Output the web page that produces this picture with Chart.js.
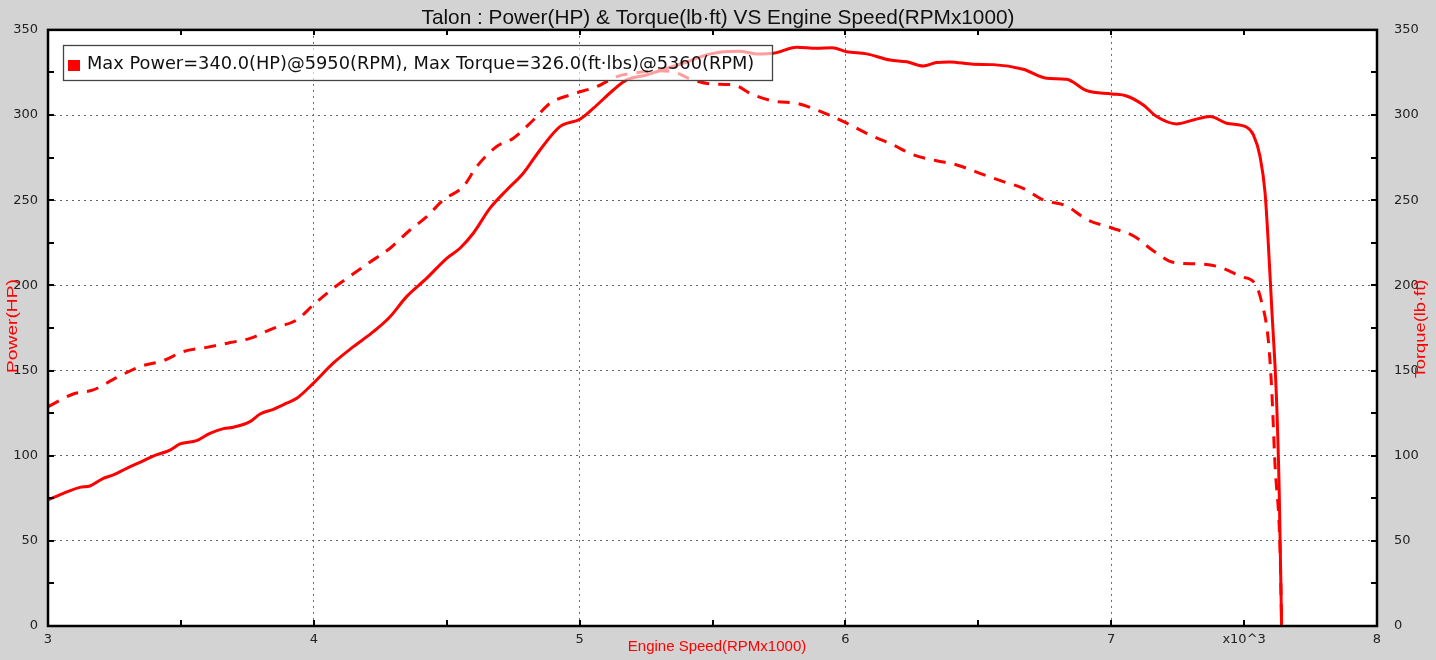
<!DOCTYPE html>
<html>
<head>
<meta charset="utf-8">
<script src="https://cdn.jsdelivr.net/npm/chart.js@4/dist/chart.umd.min.js"></script>
<style>
  body { margin: 0; background: #d3d3d3; }
  #wrap { width: 1436px; height: 660px; }
</style>
</head>
<body>
<div id="wrap"><canvas id="dynoChart" width="1436" height="660"></canvas></div>
<script>
// rpm (x1000) and power (HP)
const powerRpm = [3.0, 3.058, 3.12, 3.158, 3.208, 3.246, 3.296, 3.346, 3.396, 3.459, 3.497, 3.559, 3.609, 3.66, 3.697, 3.76, 3.798, 3.848, 3.898, 3.936, 3.998, 4.073, 4.149, 4.224, 4.287, 4.349, 4.425, 4.5, 4.55, 4.6, 4.663, 4.726, 4.788, 4.851, 4.926, 5.001, 5.052, 5.127, 5.177, 5.252, 5.3, 5.4, 5.48, 5.541, 5.6, 5.666, 5.729, 5.817, 5.892, 5.95, 6.005, 6.08, 6.168, 6.231, 6.293, 6.343, 6.393, 6.481, 6.556, 6.669, 6.757, 6.832, 6.908, 7.002, 7.058, 7.121, 7.171, 7.246, 7.309, 7.372, 7.434, 7.51, 7.535, 7.56, 7.579, 7.591, 7.604, 7.622, 7.632, 7.641];
const powerHp = [74.0, 77.9, 81.4, 82.2, 86.7, 88.7, 92.6, 96.1, 99.8, 103.3, 106.9, 108.8, 113.1, 115.9, 116.7, 120.0, 124.5, 127.2, 130.8, 133.7, 142.5, 154.3, 164.0, 172.8, 181.6, 193.4, 204.2, 215.9, 221.8, 230.6, 245.3, 256.0, 265.8, 279.5, 293.2, 297.5, 304.0, 314.7, 320.6, 323.5, 326.0, 331.0, 335.5, 337.2, 337.5, 335.9, 336.3, 339.8, 339.2, 339.5, 337.2, 335.9, 332.3, 331.3, 328.8, 330.8, 331.2, 329.8, 329.6, 326.9, 321.6, 321.0, 314.3, 312.4, 311.2, 305.9, 299.1, 294.8, 297.1, 299.1, 295.2, 292.8, 288.3, 275.6, 254.1, 224.7, 186.7, 133.0, 80.0, 0.0];

// rpm (x1000) and torque (lb-ft)
const torqueRpm = [3.001, 3.095, 3.17, 3.258, 3.346, 3.434, 3.509, 3.597, 3.685, 3.76, 3.848, 3.936, 3.998, 4.073, 4.161, 4.205, 4.287, 4.362, 4.425, 4.487, 4.562, 4.613, 4.688, 4.751, 4.826, 4.889, 4.977, 5.065, 5.14, 5.2, 5.3, 5.36, 5.42, 5.491, 5.578, 5.654, 5.742, 5.817, 5.917, 6.005, 6.093, 6.18, 6.256, 6.343, 6.419, 6.506, 6.594, 6.669, 6.745, 6.832, 6.909, 7.003, 7.086, 7.162, 7.237, 7.326, 7.402, 7.49, 7.541, 7.566, 7.591, 7.604, 7.616, 7.635, 7.641];
const torqueLbft = [128.8, 136.2, 138.6, 145.8, 152.3, 155.8, 161.1, 163.6, 166.4, 168.9, 174.8, 179.7, 188.5, 198.3, 208.1, 213.0, 221.8, 232.5, 240.3, 250.1, 258.0, 269.7, 281.5, 286.4, 297.1, 306.9, 312.4, 316.7, 322.6, 324.5, 326.0, 325.0, 321.0, 318.3, 317.7, 311.8, 307.9, 306.9, 301.4, 295.2, 288.3, 282.4, 276.6, 273.2, 270.7, 265.8, 260.9, 257.0, 250.1, 246.6, 238.6, 233.7, 228.8, 219.9, 213.4, 212.6, 211.0, 205.1, 201.1, 190.2, 168.0, 138.6, 95.7, 46.6, 3.0];

const xMin = 3, xMax = 8, xStep = 0.5;
const yMin = 0, yMax = 350, yStep = 25, yLabelStep = 50;
const legendText = 'Max Power=340.0(HP)@5950(RPM), Max Torque=326.0(ft\u00b7lbs)@5360(RPM)';

const toPoints = (xs, ys) => xs.map((x, i) => ({ x: x, y: ys[i] }));

const gridColor = (ctx, step, lo, hi) => {
  const v = ctx.tick.value;
  if (Math.abs(v / step - Math.round(v / step)) > 1e-6) return 'rgba(0,0,0,0)';
  if (v <= lo || v >= hi) return 'rgba(0,0,0,0)';
  return '#666';
};

// draws rotated text reading bottom-to-top, stretched along its length
function verticalText(c, text, x, y, stretch) {
  c.save();
  c.translate(x, y);
  c.rotate(-Math.PI / 2);
  c.scale(stretch, 1);
  c.fillText(text, 0, 0);
  c.restore();
}

// background, frame, inward ticks, legend and axis titles
const decorPlugin = {
  id: 'decor',
  beforeDraw(chart) {
    const c = chart.ctx, a = chart.chartArea;
    c.save();
    c.fillStyle = '#d3d3d3';
    c.fillRect(0, 0, chart.width, chart.height);
    c.fillStyle = '#ffffff';
    c.fillRect(a.left, a.top, a.right - a.left, a.bottom - a.top);
    c.restore();
  },
  afterDatasetsDraw(chart) {
    const c = chart.ctx, a = chart.chartArea;
    const xs = chart.scales.x, ys = chart.scales.y;
    c.save();
    // inward tick marks
    c.strokeStyle = '#000';
    c.lineWidth = 2;
    c.beginPath();
    for (let v = xMin + xStep; v < xMax; v += xStep) {
      const px = Math.round(xs.getPixelForValue(v));
      c.moveTo(px, a.bottom); c.lineTo(px, a.bottom - 6);
      c.moveTo(px, a.top); c.lineTo(px, a.top + 5);
    }
    for (let v = yMin + yStep; v < yMax; v += yStep) {
      const py = Math.round(ys.getPixelForValue(v));
      c.moveTo(a.left, py); c.lineTo(a.left + 6, py);
      c.moveTo(a.right, py); c.lineTo(a.right - 6, py);
    }
    c.stroke();
    // frame
    c.lineWidth = 2.5;
    c.strokeRect(a.left, a.top, a.right - a.left, a.bottom - a.top);

    // legend box (semi-transparent, over the lines)
    c.fillStyle = 'rgba(255,255,255,0.62)';
    c.fillRect(63.5, 45.5, 709, 35);
    c.strokeStyle = '#444';
    c.lineWidth = 1.3;
    c.strokeRect(63.5, 45.5, 709, 35);
    c.fillStyle = '#ff0000';
    c.fillRect(68, 60, 12, 11);
    c.fillStyle = '#111';
    c.font = '17.8px "DejaVu Sans"';
    c.textBaseline = 'middle';
    c.textAlign = 'left';
    c.fillText(legendText, 87, 64);

    // axis titles
    c.fillStyle = '#ff0000';
    c.font = '15px "Liberation Sans"';
    c.textAlign = 'center';
    c.fillText('Engine Speed(RPMx1000)', 717, 647);
    verticalText(c, 'Power(HP)', 13, 326, 1.28);
    verticalText(c, 'Torque(lb\u00b7ft)', 1421, 329, 1.22);
    c.restore();
  }
};

const tickFont = { family: 'DejaVu Sans', size: 13 };
const yLabel = v => (v % yLabelStep === 0 ? String(v) : '');

const config = {
  type: 'line',
  data: {
    datasets: [
      {
        label: 'Power',
        data: toPoints(powerRpm, powerHp),
        borderColor: '#ff0000',
        borderWidth: 3,
        pointRadius: 0,
        cubicInterpolationMode: 'monotone',
        yAxisID: 'y'
      },
      {
        label: 'Torque',
        data: toPoints(torqueRpm, torqueLbft),
        borderColor: '#ff0000',
        borderWidth: 3,
        borderDash: [12, 9],
        pointRadius: 0,
        cubicInterpolationMode: 'monotone',
        yAxisID: 'y1'
      }
    ]
  },
  options: {
    responsive: false,
    animation: false,
    layout: { padding: 0 },
    plugins: {
      legend: { display: false },
      tooltip: { enabled: false },
      title: {
        display: true,
        text: 'Talon : Power(HP) & Torque(lb\u00b7ft) VS Engine Speed(RPMx1000)',
        color: '#111',
        font: { family: 'Liberation Sans', size: 20.8, weight: 'normal', lineHeight: 1.1 },
        padding: { top: 7, bottom: 0 }
      }
    },
    scales: {
      x: {
        type: 'linear',
        min: xMin, max: xMax,
        afterFit(s) { s.height = 34; },
        ticks: {
          stepSize: xStep,
          autoSkip: false,
          maxRotation: 0,
          padding: 6,
          color: '#222',
          font: tickFont,
          callback: v => (Number.isInteger(v) ? String(v) : (v === 7.5 ? 'x10^3' : ''))
        },
        grid: {
          drawTicks: false,
          lineWidth: 1,
          color: ctx => gridColor(ctx, 1, xMin, xMax)
        },
        border: { display: false, dash: [2, 4] }
      },
      y: {
        position: 'left',
        min: yMin, max: yMax,
        afterFit(s) { s.width = 48; },
        ticks: { stepSize: yStep, autoSkip: false, padding: 10, color: '#222', font: tickFont, callback: yLabel },
        grid: {
          drawTicks: false,
          lineWidth: 1,
          color: ctx => gridColor(ctx, yLabelStep, yMin, yMax)
        },
        border: { display: false, dash: [2, 4] }
      },
      y1: {
        position: 'right',
        min: yMin, max: yMax,
        afterFit(s) { s.width = 59; },
        ticks: { stepSize: yStep, autoSkip: false, padding: 17, color: '#222', font: tickFont, callback: yLabel },
        grid: { display: false, drawTicks: false },
        border: { display: false }
      }
    }
  },
  plugins: [decorPlugin]
};

const ctx = document.getElementById('dynoChart').getContext('2d');
const dynoChart = new Chart(ctx, config);
</script>
</body>
</html>
